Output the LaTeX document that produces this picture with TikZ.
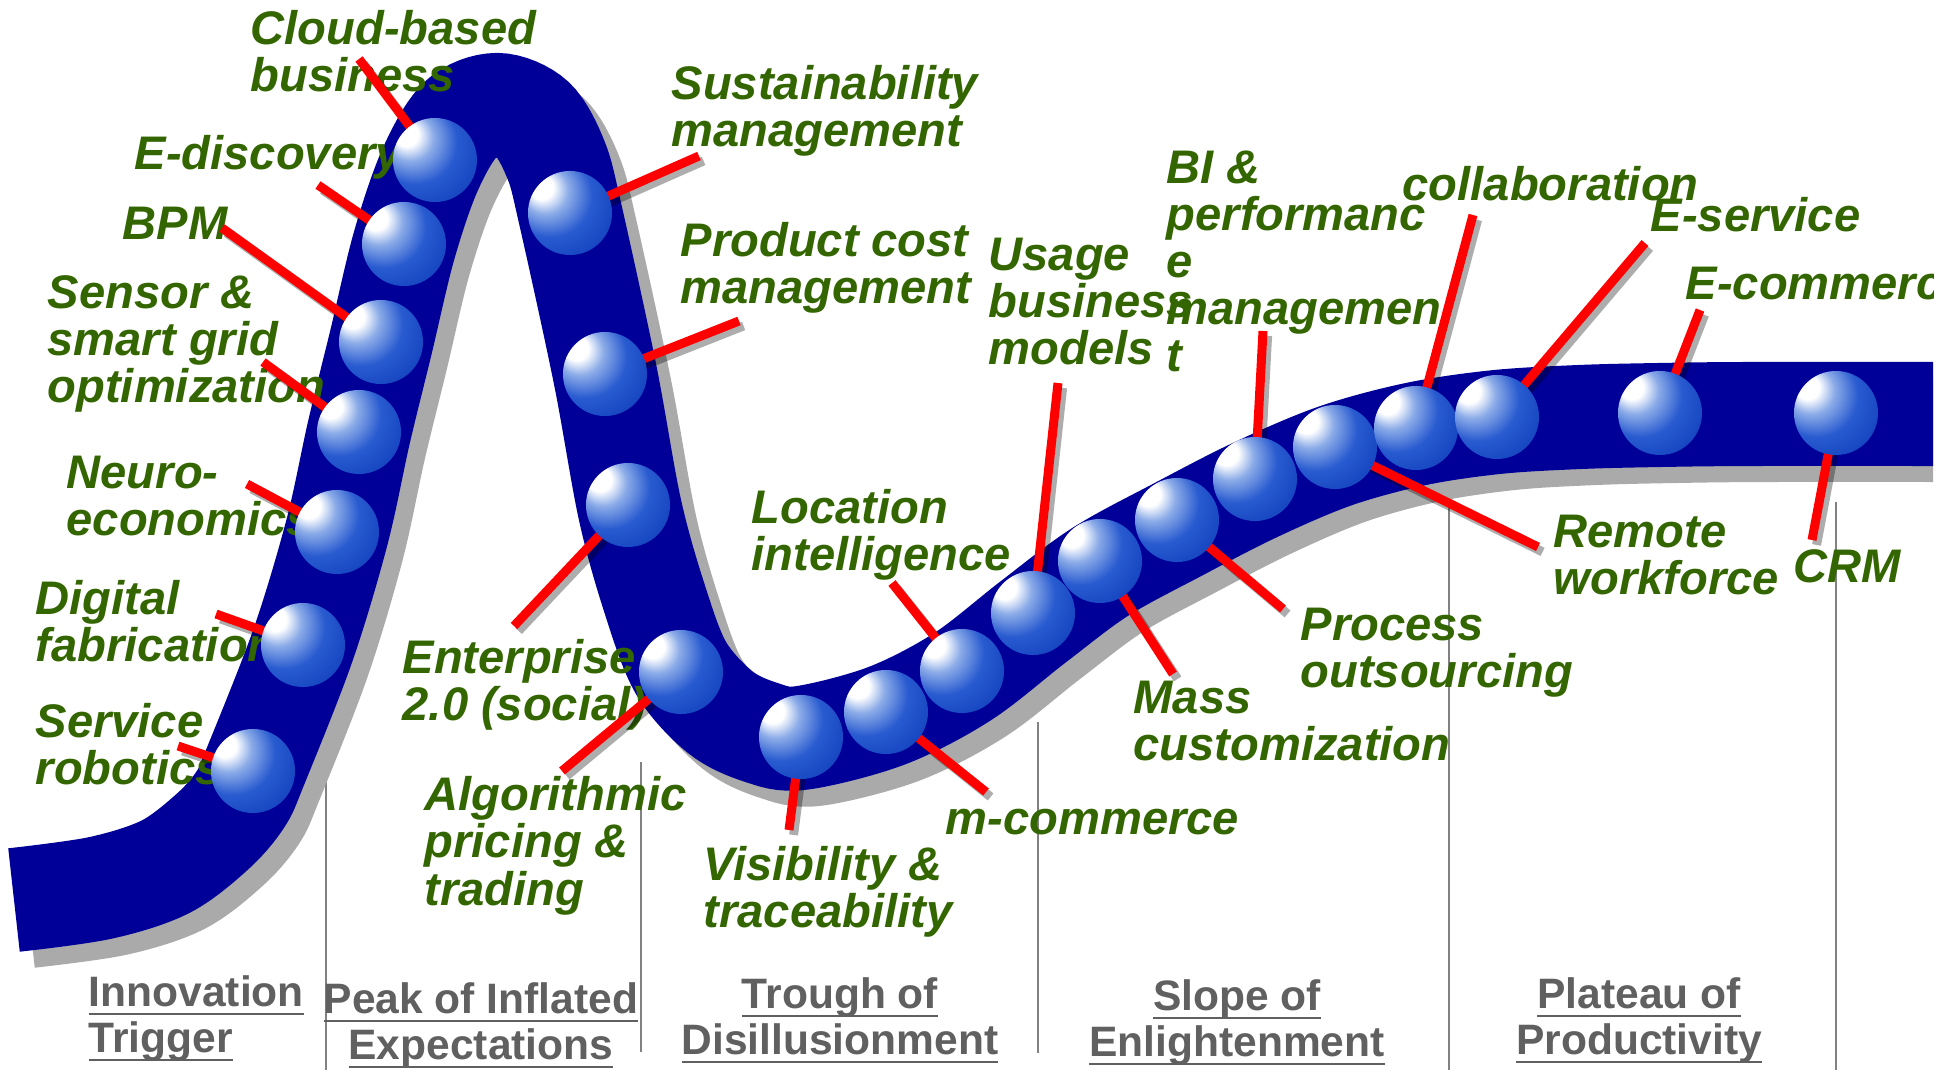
\documentclass[tikz,border=0pt]{standalone}
\usepackage{fontspec}
\setmainfont{Liberation Sans}
\usepackage{tikz}
\definecolor{hypeblue}{RGB}{0, 0, 153}
\definecolor{hypeshadow}{RGB}{170, 170, 170}
\definecolor{leaderred}{RGB}{255, 0, 0}
\definecolor{techgreen}{RGB}{51, 102, 0}
\definecolor{phasegray}{RGB}{96, 96, 96}
\definecolor{dividergray}{RGB}{130, 130, 130}
\definecolor{ballhigh}{RGB}{140, 172, 232}
\definecolor{ballmid}{RGB}{40, 90, 208}
\definecolor{balllow}{RGB}{16, 64, 188}
\definecolor{balledge}{RGB}{6, 48, 164}
\pgfdeclareradialshading{sphereball}{\pgfpoint{-19bp}{17bp}}{color(0bp)=(white); color(7bp)=(white); color(14bp)=(ballhigh); color(25bp)=(ballmid); color(40bp)=(balllow); color(66bp)=(balledge)}
\pgfdeclarelayer{back}
\pgfsetlayers{back,main}
\newcommand{\techfont}{\bfseries\itshape\fontsize{13.4}{13.4}\selectfont}
\newcommand{\phasefont}{\bfseries\fontsize{12.1}{13.1}\selectfont}
\newcommand{\phul}[1]{\setbox0=\hbox{#1}\rlap{\rule[-2.4pt]{\wd0}{0.6pt}}\box0}
\newcommand{\hypecurve}{plot[smooth, tension=0.55] coordinates {(14,900) (100,888) (165,867) (212,832) (240,800) (256,765) (303,645) (337,532) (359,432) (381,342) (404,246) (430,170) (460,120) (497,105) (533,120) (556,160) (570,213) (605,374) (630,510) (655,600) (681,668) (720,712) (760,732) (801,738) (886,716) (962,677) (1033,622) (1100,572) (1177,530) (1255,490) (1335,456) (1416,434) (1497,422) (1580,417) (1660,415) (1750,414) (1950,414)}}
\tikzstyle{band}=[line width=1.04cm, color=hypeblue]
\tikzstyle{bandshadow}=[line width=1.04cm, color=hypeshadow]
\tikzstyle{ball}=[circle, inner sep=0pt, minimum size=0.84cm, shade, shading=sphereball]
\tikzstyle{leader}=[line width=0.09cm, color=leaderred]
\tikzstyle{leadershadow}=[line width=0.09cm, color=black, opacity=0.32, transform canvas={xshift=1.3pt, yshift=-1.4pt}]
\tikzstyle{tech}=[anchor=north west, inner sep=0pt, align=left, text=techgreen, font=\techfont]
\tikzstyle{phase}=[anchor=north, inner sep=0pt, align=center, text=phasegray, font=\phasefont]
\tikzstyle{divider}=[line width=0.8pt, color=dividergray]

\begin{document}
\begin{tikzpicture}[x=0.01cm, y=-0.01cm]
    \useasboundingbox (0,0) rectangle (1957,1070);

    % Spheres on the curve
    \node[ball] (s1) at (253,771) {};
    \node[ball] (s2) at (303,645) {};
    \node[ball] (s3) at (337,532) {};
    \node[ball] (s4) at (359,432) {};
    \node[ball] (s5) at (381,342) {};
    \node[ball] (s6) at (404,244) {};
    \node[ball] (s7) at (435,160) {};
    \node[ball] (s8) at (570,213) {};
    \node[ball] (s9) at (605,374) {};
    \node[ball] (s10) at (628,505) {};
    \node[ball] (s11) at (681,672) {};
    \node[ball] (s12) at (801,737) {};
    \node[ball] (s13) at (886,712) {};
    \node[ball] (s14) at (962,671) {};
    \node[ball] (s15) at (1033,613) {};
    \node[ball] (s16) at (1100,561) {};
    \node[ball] (s17) at (1177,520) {};
    \node[ball] (s18) at (1255,479) {};
    \node[ball] (s19) at (1335,447) {};
    \node[ball] (s20) at (1416,428) {};
    \node[ball] (s21) at (1497,417) {};
    \node[ball] (s22) at (1660,413) {};
    \node[ball] (s23) at (1836,413) {};

    \begin{pgfonlayer}{back}
    \clip (0,0) rectangle (1933,1070);

    % Phase dividers
    \draw[divider] (326,776) -- (326,1070);
    \draw[divider] (641,762) -- (641,1052);
    \draw[divider] (1038,722) -- (1038,1053);
    \draw[divider] (1449,502) -- (1449,1070);
    \draw[divider] (1836,502) -- (1836,1070);

    % Phase names
    \node[phase, anchor=north west, align=left] (p1) at (88,975) {\phul{Innovation}\\\phul{Trigger}};
    \node[phase] (p2) at (481,982) {\phul{Peak of Inflated}\\\phul{Expectations}};
    \node[phase] (p3) at (840,977) {\phul{Trough of}\\\phul{Disillusionment}};
    \node[phase] (p4) at (1237,979) {\phul{Slope of}\\\phul{Enlightenment}};
    \node[phase] (p5) at (1639,977) {\phul{Plateau of}\\\phul{Productivity}};

    % The curve
    \draw[bandshadow, shift={(15,16)}] \hypecurve;
    \draw[band] \hypecurve;

    % Technology labels
    \node[tech] (l1) at (35,703) {Service\\robotics};
    \node[tech] (l2) at (35,580) {Digital\\fabrication};
    \node[tech] (l3) at (66,455) {Neuro-\\economics};
    \node[tech] (l4) at (47,275) {Sensor \&\\smart grid\\optimization};
    \node[tech] (l5) at (122,206) {BPM};
    \node[tech] (l6) at (134,135) {E-discovery};
    \node[tech] (l7) at (250,10) {Cloud-based\\business};
    \node[tech] (l8) at (671,65) {Sustainability\\management};
    \node[tech] (l9) at (680,222) {Product cost\\management};
    \node[tech] (l10) at (402,639) {Enterprise\\2.0 (social)};
    \node[tech] (l11) at (424,776) {Algorithmic\\pricing \&\\trading};
    \node[tech] (l12) at (703,846) {Visibility \&\\traceability};
    \node[tech, anchor=base west] (l13) at (945,834) {m-commerce};
    \node[tech] (l14) at (751,489) {Location\\intelligence};
    \node[tech] (l15) at (988,237) {Usage\\business\\models};
    \node[tech] (l16) at (1133,680) {Mass\\customization};
    \node[tech] (l17) at (1300,607) {Process\\outsourcing};
    \node[tech] (l18) at (1166,150) {BI \&\\performanc\\e\\managemen\\t};
    \node[tech] (l19) at (1553,514) {Remote\\workforce};
    \node[tech] (l20) at (1402,166) {collaboration};
    \node[tech] (l21) at (1650,197) {E-service};
    \node[tech] (l22) at (1685,266) {E-commerce};
    \node[tech] (l23) at (1793,549) {CRM};

    % Leader ends
    \coordinate (c1) at (178,746);
    \coordinate (c2) at (216,614);
    \coordinate (c3) at (247,484);
    \coordinate (c4) at (263,362);
    \coordinate (c5) at (222,228);
    \coordinate (c6) at (318,185);
    \coordinate (c7) at (359,59);
    \coordinate (c8) at (699,156);
    \coordinate (c9) at (739,321);
    \coordinate (c10) at (514,626);
    \coordinate (c11) at (562,771);
    \coordinate (c12) at (789,830);
    \coordinate (c13) at (986,792);
    \coordinate (c14) at (892,583);
    \coordinate (c15) at (1058,383);
    \coordinate (c16) at (1173,674);
    \coordinate (c17) at (1283,609);
    \coordinate (c18) at (1263,331);
    \coordinate (c19) at (1538,547);
    \coordinate (c20) at (1473,215);
    \coordinate (c21) at (1645,243);
    \coordinate (c22) at (1700,310);
    \coordinate (c23) at (1812,540);

    % Leaders
    \draw[leadershadow] (c1) -- (s1.center); \draw[leader] (c1) -- (s1.center);
    \draw[leadershadow] (c2) -- (s2.center); \draw[leader] (c2) -- (s2.center);
    \draw[leadershadow] (c3) -- (s3.center); \draw[leader] (c3) -- (s3.center);
    \draw[leadershadow] (c4) -- (s4.center); \draw[leader] (c4) -- (s4.center);
    \draw[leadershadow] (c5) -- (s5.center); \draw[leader] (c5) -- (s5.center);
    \draw[leadershadow] (c6) -- (s6.center); \draw[leader] (c6) -- (s6.center);
    \draw[leadershadow] (c7) -- (s7.center); \draw[leader] (c7) -- (s7.center);
    \draw[leadershadow] (c8) -- (s8.center); \draw[leader] (c8) -- (s8.center);
    \draw[leadershadow] (c9) -- (s9.center); \draw[leader] (c9) -- (s9.center);
    \draw[leadershadow] (c10) -- (s10.center); \draw[leader] (c10) -- (s10.center);
    \draw[leadershadow] (c11) -- (s11.center); \draw[leader] (c11) -- (s11.center);
    \draw[leadershadow] (c12) -- (s12.center); \draw[leader] (c12) -- (s12.center);
    \draw[leadershadow] (c13) -- (s13.center); \draw[leader] (c13) -- (s13.center);
    \draw[leadershadow] (c14) -- (s14.center); \draw[leader] (c14) -- (s14.center);
    \draw[leadershadow] (c15) -- (s15.center); \draw[leader] (c15) -- (s15.center);
    \draw[leadershadow] (c16) -- (s16.center); \draw[leader] (c16) -- (s16.center);
    \draw[leadershadow] (c17) -- (s17.center); \draw[leader] (c17) -- (s17.center);
    \draw[leadershadow] (c18) -- (s18.center); \draw[leader] (c18) -- (s18.center);
    \draw[leadershadow] (c19) -- (s19.center); \draw[leader] (c19) -- (s19.center);
    \draw[leadershadow] (c20) -- (s20.center); \draw[leader] (c20) -- (s20.center);
    \draw[leadershadow] (c21) -- (s21.center); \draw[leader] (c21) -- (s21.center);
    \draw[leadershadow] (c22) -- (s22.center); \draw[leader] (c22) -- (s22.center);
    \draw[leadershadow] (c23) -- (s23.center); \draw[leader] (c23) -- (s23.center);
    \end{pgfonlayer}

\end{tikzpicture}
\end{document}
